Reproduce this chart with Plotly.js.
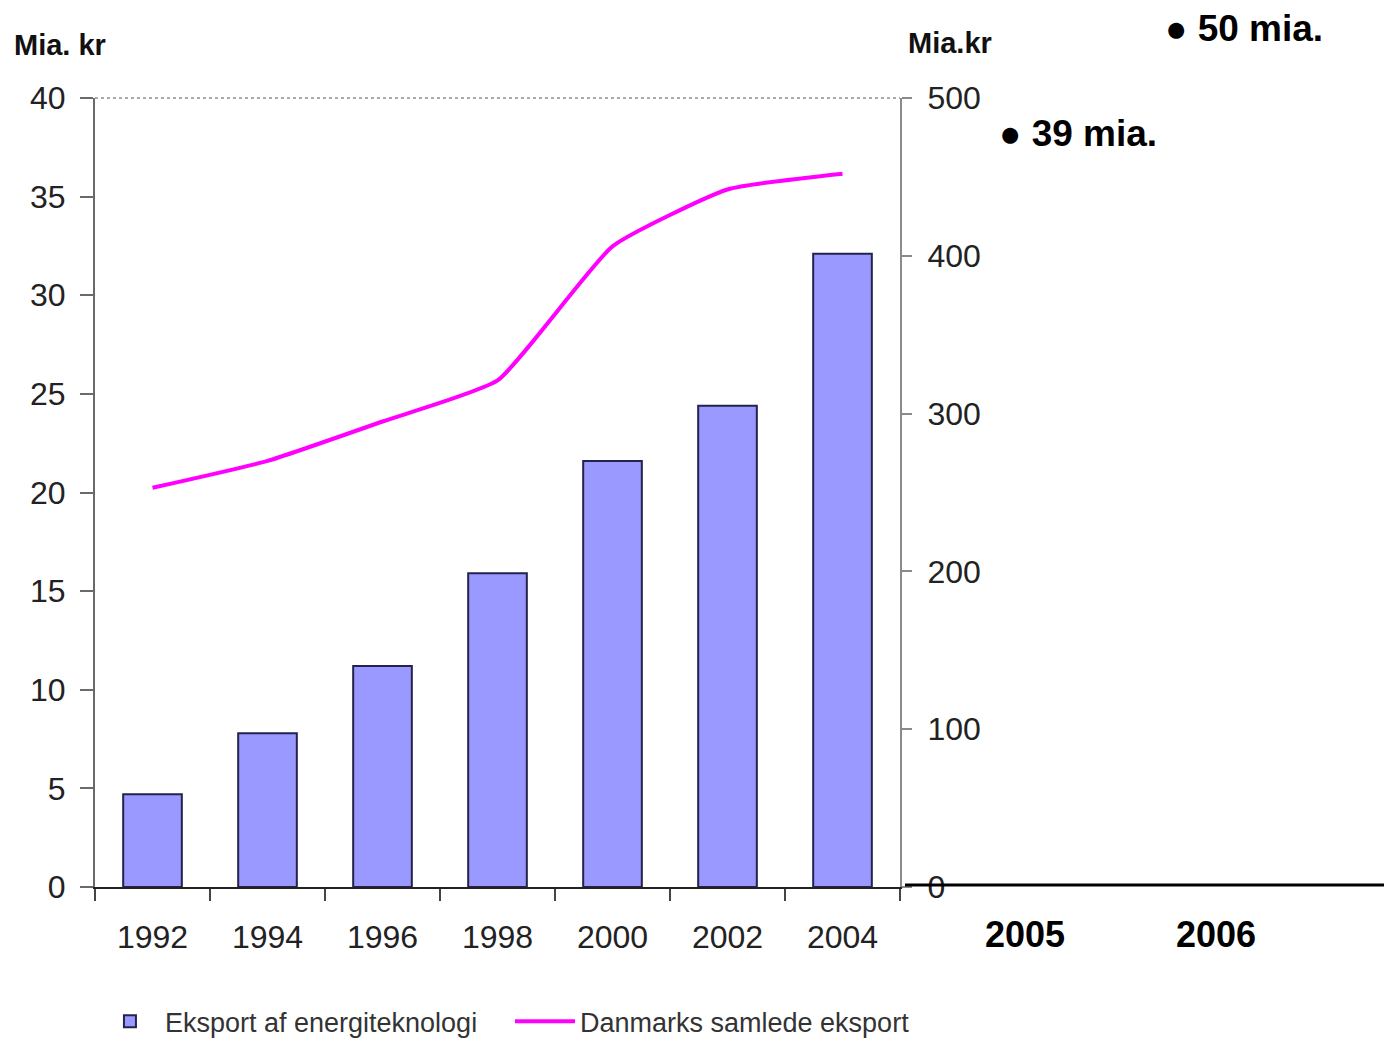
<!DOCTYPE html>
<html>
<head>
<meta charset="utf-8">
<script src="https://cdn.plot.ly/plotly-3.0.1.min.js"></script>
<style>html,body{margin:0;padding:0;background:#fff;}#chart{width:1384px;height:1041px;}</style>
</head>
<body>
<div id="chart"></div>
<script>
const years = ["1992", "1994", "1996", "1998", "2000", "2002", "2004"];
const energyExport = [4.7, 7.8, 11.2, 15.9, 21.6, 24.4, 32.1];
const totalExport = [253, 270, 295, 321, 406, 442, 452];
const barName = "Eksport af energiteknologi";
const lineName = "Danmarks samlede eksport";
const leftTitle = "Mia. kr";
const rightTitle = "Mia.kr";
const noteLabels = ["● 50 mia.", "● 39 mia."];
const futureYears = ["2005", "2006"];

const tickFont = {family: "Liberation Sans, Arial, sans-serif", size: 32, color: "#222"};
const boldFont = {family: "Liberation Sans, Arial, sans-serif", size: 29, color: "#111", weight: "bold"};
const bigBold = {family: "Liberation Sans, Arial, sans-serif", size: 37, color: "#000", weight: "bold"};
const yearBold = {family: "Liberation Sans, Arial, sans-serif", size: 36, color: "#000", weight: "bold"};
const legendFont = {family: "Liberation Sans, Arial, sans-serif", size: 27, color: "#333"};

const traces = [
  {
    type: "bar", x: years, y: energyExport, name: barName, yaxis: "y", legend: "legend",
    marker: {color: "#9999ff", line: {color: "#23234d", width: 2}},
    hoverinfo: "x+y"
  },
  {
    type: "scatter", mode: "lines", x: years, y: totalExport, name: lineName, yaxis: "y2", legend: "legend2",
    line: {color: "#ff00ff", width: 4, shape: "spline", smoothing: 0.45}
  }
];

const legendBase = {
  orientation: "h", xref: "container", yref: "container", xanchor: "left",
  y: 0.0185, yanchor: "middle", font: legendFont, itemwidth: 60,
  bgcolor: "rgba(0,0,0,0)", borderwidth: 0
};

const layout = {
  width: 1384, height: 1041,
  margin: {l: 95, r: 484, t: 98, b: 154},
  paper_bgcolor: "#fff", plot_bgcolor: "#fff",
  bargap: 0.49,
  showlegend: true,
  legend: Object.assign({}, legendBase, {x: 0.0686}),
  legend2: Object.assign({}, legendBase, {x: 0.3685}),
  xaxis: {
    type: "category", tickfont: tickFont, showline: true, linecolor: "#222", linewidth: 2,
    ticks: "outside", ticklen: 12, tickwidth: 2, tickcolor: "#444", tickson: "boundaries",
    showgrid: false, zeroline: false, ticklabelstandoff: 21, fixedrange: true
  },
  yaxis: {
    range: [0, 40], dtick: 5, tickfont: tickFont, showline: true, linecolor: "#6a6a6a", linewidth: 2,
    ticks: "outside", ticklen: 13, tickwidth: 2, tickcolor: "#6a6a6a", showgrid: false, zeroline: false,
    ticklabelstandoff: 8, fixedrange: true
  },
  yaxis2: {
    range: [0, 500], dtick: 100, overlaying: "y", side: "right", tickfont: tickFont,
    showline: true, linecolor: "#8a8a8a", linewidth: 2, ticks: "outside", ticklen: 10, tickwidth: 2,
    tickcolor: "#8a8a8a", showgrid: false, zeroline: false, ticklabelstandoff: 9, fixedrange: true
  },
  shapes: [
    {type: "line", xref: "paper", yref: "paper", x0: 0, x1: 1, y0: 1, y1: 1,
     line: {color: "#aaaaaa", width: 2, dash: "dot"}},
    {type: "line", xref: "paper", yref: "paper", x0: 1.0062, x1: 1.62, y0: 0.0025, y1: 0.0025,
     line: {color: "#000", width: 3}}
  ],
  annotations: [
    {text: leftTitle, xref: "paper", yref: "paper", x: -0.1031, y: 1.0672, xanchor: "left", yanchor: "middle", showarrow: false, font: boldFont},
    {text: rightTitle, xref: "paper", yref: "paper", x: 1.00745, y: 1.0697, xanchor: "left", yanchor: "middle", showarrow: false, font: boldFont},
    {text: noteLabels[0], xref: "paper", yref: "paper", x: 1.327, y: 1.0887, xanchor: "left", yanchor: "middle", showarrow: false, font: bigBold},
    {text: noteLabels[1], xref: "paper", yref: "paper", x: 1.12, y: 0.9556, xanchor: "left", yanchor: "middle", showarrow: false, font: bigBold},
    {text: futureYears[0], xref: "paper", yref: "paper", x: 1.1553, y: -0.0608, xanchor: "center", yanchor: "middle", showarrow: false, font: yearBold},
    {text: futureYears[1], xref: "paper", yref: "paper", x: 1.3925, y: -0.0608, xanchor: "center", yanchor: "middle", showarrow: false, font: yearBold}
  ]
};

Plotly.newPlot("chart", traces, layout, {displayModeBar: false, staticPlot: true});
</script>
</body>
</html>
